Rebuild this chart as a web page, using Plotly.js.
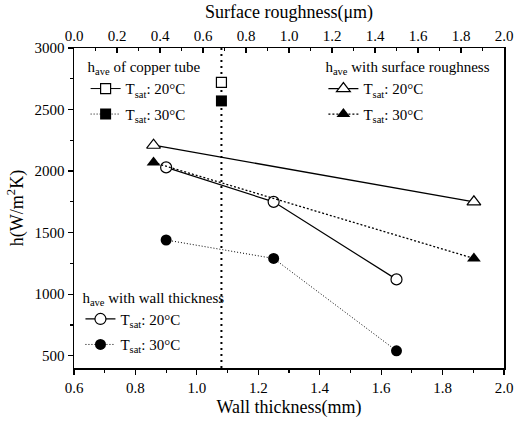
<!DOCTYPE html>
<html>
<head>
<meta charset="utf-8">
<script src="https://cdn.plot.ly/plotly-3.0.1.min.js"></script>
<style>html,body{margin:0;padding:0;background:#fff;}#chart{width:516px;height:427px;}</style>
</head>
<body>
<div id="chart"></div>
<script>
// Data
const wallThickness = [0.9, 1.25, 1.65];
const wallT20 = [2030, 1750, 1120];
const wallT30 = [1440, 1290, 540];

const roughness = [0.37, 1.86];
const roughT20 = [2210, 1750];
const roughT30 = [2070, 1290];

const copperWall = [1.08];
const copperT20 = [2720];
const copperT30 = [2570];

const copperLineX = [1.08, 1.08];
const copperLineY = [400, 3000];

const xTickVals = [0.6, 0.8, 1.0, 1.2, 1.4, 1.6, 1.8, 2.0];
const x2TickVals = [0.0, 0.2, 0.4, 0.6, 0.8, 1.0, 1.2, 1.4, 1.6, 1.8, 2.0];
const yTickVals = [500, 1000, 1500, 2000, 2500, 3000];

const FONT = 'Liberation Serif, Times New Roman, serif';
const openMarker = (sym, size) => ({symbol: sym, size: size, color: '#fff', line: {color: '#000', width: 1.2}});
const fillMarker = (sym, size) => ({symbol: sym, size: size, color: '#000', line: {color: '#000', width: 0}});

const traces = [
  {x: copperLineX, y: copperLineY, mode: 'lines', line: {color: '#000', width: 2, dash: '2px,4px'}, showlegend: false, hoverinfo: 'skip'},
  {x: copperWall, y: copperT20, mode: 'lines+markers', name: 'T<sub>sat</sub>: 20°C', line: {color: '#000', width: 1}, marker: openMarker('square', 10), legend: 'legend', legendgroup: 'c20'},
  {x: copperWall, y: copperT30, mode: 'lines+markers', name: 'T<sub>sat</sub>: 30°C', line: {color: '#000', width: 1, dash: '1px,2px'}, marker: fillMarker('square', 11), legend: 'legend', legendgroup: 'c30'},
  {x: roughness, y: roughT20, xaxis: 'x2', mode: 'lines+markers', name: 'T<sub>sat</sub>: 20°C', line: {color: '#000', width: 1.3}, marker: openMarker('triangle-up', 12), legend: 'legend2', legendgroup: 'r20'},
  {x: roughness, y: roughT30, xaxis: 'x2', mode: 'lines+markers', name: 'T<sub>sat</sub>: 30°C', line: {color: '#000', width: 1.3, dash: '2px,2px'}, marker: fillMarker('triangle-up', 12), legend: 'legend2', legendgroup: 'r30'},
  {x: wallThickness, y: wallT20, mode: 'lines+markers', name: 'T<sub>sat</sub>: 20°C', line: {color: '#000', width: 1.2}, marker: openMarker('circle', 11), legend: 'legend3', legendgroup: 'w20'},
  {x: wallThickness, y: wallT30, mode: 'lines+markers', name: 'T<sub>sat</sub>: 30°C', line: {color: '#000', width: 1, dash: '1px,2px'}, marker: fillMarker('circle', 11), legend: 'legend3', legendgroup: 'w30'}
];

const legendBase = {
  bgcolor: 'rgba(0,0,0,0)', borderwidth: 0, xanchor: 'left', yanchor: 'top',
  font: {family: FONT, size: 15, color: '#000'}, itemclick: false, tracegroupgap: 3
};

const layout = {
  width: 516, height: 427,
  margin: {l: 74, r: 12, t: 48, b: 59},
  paper_bgcolor: '#fff', plot_bgcolor: '#fff',
  font: {family: FONT, size: 15, color: '#000'},
  xaxis: {
    range: [0.6, 2.0], tickvals: xTickVals, ticktext: xTickVals.map(v => v.toFixed(1)),
    ticks: 'outside', ticklen: 5, tickwidth: 1.2, tickcolor: '#000',
    minor: {dtick: 0.1, ticks: 'outside', ticklen: 3, tickcolor: '#000'},
    showline: true, linecolor: '#000', linewidth: 1.5, mirror: false,
    showgrid: false, zeroline: false,
    tickfont: {family: FONT, size: 15},
    title: {text: 'Wall thickness(mm)', font: {family: FONT, size: 18}, standoff: 6}
  },
  xaxis2: {
    overlaying: 'x', side: 'top', anchor: 'y',
    range: [0, 2.0], tickvals: x2TickVals, ticktext: x2TickVals.map(v => v.toFixed(1)),
    ticks: 'inside', ticklen: 5, tickwidth: 1.2, tickcolor: '#000',
    minor: {dtick: 0.1, ticks: 'inside', ticklen: 3, tickcolor: '#000'},
    showline: true, linecolor: '#000', linewidth: 1.5,
    showgrid: false, zeroline: false,
    tickfont: {family: FONT, size: 15},
    title: {text: 'Surface roughness(μm)', font: {family: FONT, size: 18}, standoff: 4}
  },
  yaxis: {
    range: [400, 3000], tickvals: yTickVals, ticktext: yTickVals.map(String),
    ticks: 'outside', ticklen: 5, tickwidth: 1.2, tickcolor: '#000',
    minor: {dtick: 250, ticks: 'outside', ticklen: 3, tickcolor: '#000'},
    showline: true, linecolor: '#000', linewidth: 1.5, mirror: true,
    showgrid: false, zeroline: false,
    tickfont: {family: FONT, size: 15},
    title: {text: 'h(W/m<sup>2</sup>K)', font: {family: FONT, size: 18}, standoff: 6}
  },
  legend: Object.assign({}, legendBase, {x: 0.027, y: 0.985, title: {text: 'h<sub>ave</sub> of copper tube', font: {family: FONT, size: 15}}}),
  legend2: Object.assign({}, legendBase, {x: 0.58, y: 0.985, title: {text: 'h<sub>ave</sub> with surface roughness', font: {family: FONT, size: 15}}}),
  legend3: Object.assign({}, legendBase, {x: 0.015, y: 0.265, title: {text: 'h<sub>ave</sub> with wall thickness', font: {family: FONT, size: 15}}}),
  showlegend: true
};

Plotly.newPlot('chart', traces, layout, {staticPlot: true, displayModeBar: false});
</script>
</body>
</html>
